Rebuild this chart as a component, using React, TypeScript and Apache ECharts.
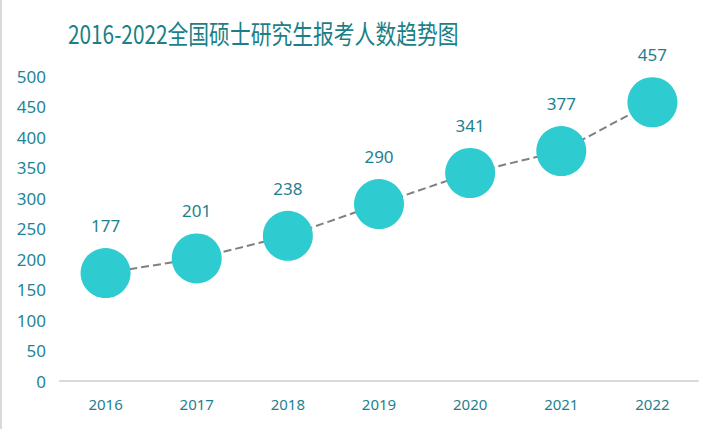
import React, { useEffect, useRef } from "react";
import * as echarts from "echarts";

const categories = ["2016", "2017", "2018", "2019", "2020", "2021", "2022"];
const applicants = [177, 201, 238, 290, 341, 377, 457];
const titleText = "2016-2022全国硕士研究生报考人数趋势图";

export default function App() {
  const ref = useRef<HTMLDivElement>(null);
  useEffect(() => {
    if (!ref.current) return;
    const chart = echarts.init(ref.current, null, { renderer: "svg" });
    chart.setOption({
      animation: false,
      backgroundColor: "#ffffff",
      graphic: [
        {
          type: "rect",
          shape: { x: 0, y: 0, width: 2, height: 429 },
          style: { fill: "#d9d9d9" },
        },
        {
          type: "text",
          x: 68,
          y: 33,
          scaleX: 0.8,
          style: {
            text: titleText,
            fill: "#1a7f86",
            fontSize: 26,
            fontFamily: "Noto Sans CJK SC",
            verticalAlign: "middle",
            align: "left",
          },
        },
      ],
      grid: { left: 60, right: 20, top: 76, bottom: 48 },
      xAxis: {
        type: "category",
        data: categories,
        boundaryGap: true,
        axisLine: { lineStyle: { color: "#d9d9d9", width: 2 } },
        axisTick: { show: false },
        axisLabel: {
          color: "#1f7f8f",
          fontSize: 15,
          margin: 15,
          fontFamily: "Noto Sans",
        },
      },
      yAxis: {
        type: "value",
        min: 0,
        max: 500,
        interval: 50,
        splitLine: { show: false },
        axisLine: { show: false },
        axisTick: { show: false },
        axisLabel: {
          color: "#1f8596",
          fontSize: 17,
          margin: 14,
          fontFamily: "Noto Sans",
        },
      },
      series: [
        {
          type: "line",
          data: applicants,
          symbol: "circle",
          symbolSize: 50,
          itemStyle: { color: "#2ecbd0" },
          lineStyle: { color: "#808080", width: 2, type: "dashed" },
          label: {
            show: true,
            position: "top",
            distance: 14,
            color: "#1f7f8f",
            fontSize: 17,
            fontFamily: "Noto Sans",
          },
        },
      ],
    });
    return () => chart.dispose();
  }, []);
  return <div ref={ref} style={{ width: 718, height: 429, position: "fixed", left: 0, top: 0 }} />;
}
